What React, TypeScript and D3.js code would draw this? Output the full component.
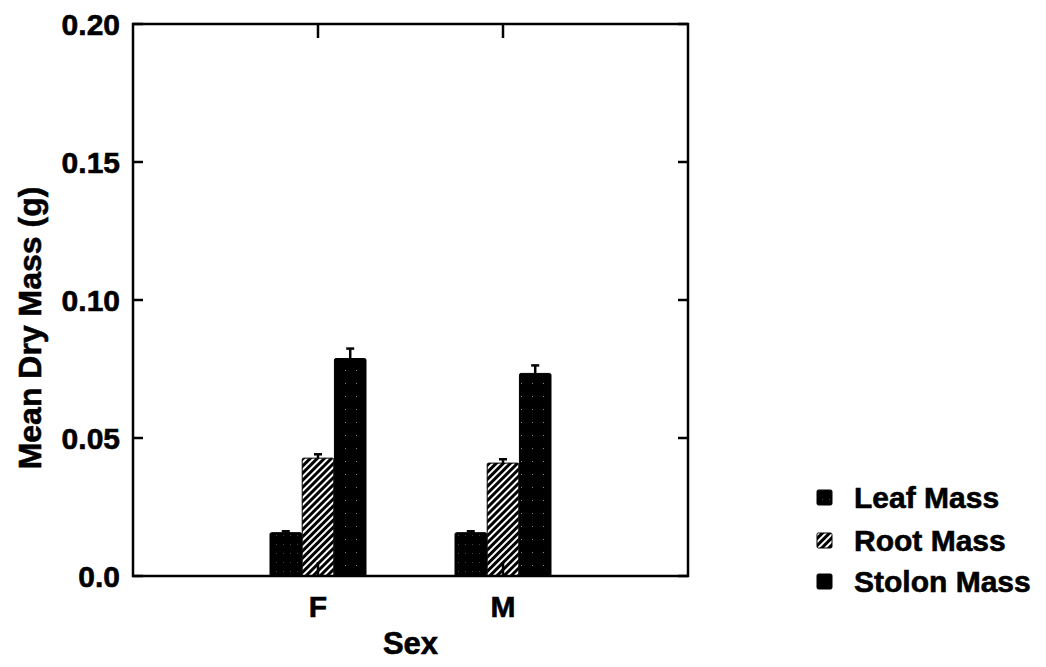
import React from "react";
import * as d3 from "d3";

// data
const sexes = ["F", "M"];
const sexPos = [1, 2];
const seriesNames = ["Leaf Mass", "Root Mass", "Stolon Mass"];
const leafMass = [0.0157, 0.0157];
const rootMass = [0.0427, 0.0409];
const stolonMass = [0.0788, 0.0734];
const leafErr = [0.0005, 0.0005];
const rootErr = [0.0014, 0.0014];
const stolonErr = [0.0036, 0.0029];
const yTicks = [0, 0.05, 0.1, 0.15, 0.2];
const yTickLabels = ["0.0", "0.05", "0.10", "0.15", "0.20"];

const W = 1046;
const H = 667;
const FONT = "'Liberation Sans', Arial, Helvetica, sans-serif";

function addText(sel: any, size: number) {
  return sel
    .attr("font-family", FONT)
    .attr("font-weight", "bold")
    .attr("font-size", size)
    .attr("stroke", "#000")
    .attr("stroke-width", 0.6);
}

function drawChart(svgEl: SVGSVGElement) {
  const svg = d3.select(svgEl);
  svg.selectAll("*").remove();

  const left = 133, right = 688, top = 24, bottom = 576;

  const x = d3.scaleLinear().domain([0, 3]).range([left, right]);
  const y = d3.scaleLinear().domain([0, 0.2]).range([bottom, top]);
  const inner = d3.scaleBand().domain(seriesNames).range([-48, 48]).paddingInner(0.02);

  // patterns
  const defs = svg.append("defs");
  const leafPat = defs.append("pattern").attr("id", "leafPat")
    .attr("patternUnits", "userSpaceOnUse").attr("width", 7).attr("height", 9);
  leafPat.append("rect").attr("width", 7).attr("height", 9).attr("fill", "#000");
  leafPat.append("rect").attr("x", 3).attr("y", 4).attr("width", 1).attr("height", 1).attr("fill", "#444");

  const hatch = defs.append("pattern").attr("id", "hatchPat")
    .attr("patternUnits", "userSpaceOnUse").attr("width", 5).attr("height", 5)
    .attr("patternTransform", "rotate(45)");
  hatch.append("rect").attr("width", 5).attr("height", 5).attr("fill", "#000");
  hatch.append("rect").attr("x", 0).attr("y", 0).attr("width", 2).attr("height", 5).attr("fill", "#fff");

  const stolPat = defs.append("pattern").attr("id", "stolPat")
    .attr("patternUnits", "userSpaceOnUse").attr("width", 11).attr("height", 13);
  stolPat.append("rect").attr("width", 11).attr("height", 13).attr("fill", "#000");
  stolPat.append("rect").attr("x", 4).attr("y", 6).attr("width", 1).attr("height", 1).attr("fill", "#888");

  const fills = ["url(#leafPat)", "url(#hatchPat)", "url(#stolPat)"];
  const legendFills = ["url(#leafPat)", "url(#hatchPat)", "#000"];
  const values = [leafMass, rootMass, stolonMass];
  const errs = [leafErr, rootErr, stolonErr];

  // bars + error bars
  sexes.forEach((s, i) => {
    seriesNames.forEach((name, k) => {
      const x0 = x(sexPos[i]) + (inner(name) as number);
      const bw = inner.bandwidth();
      const v = values[k][i];
      const e = errs[k][i];
      const cx = x0 + bw / 2;
      svg.append("line")
        .attr("x1", cx).attr("x2", cx)
        .attr("y1", y(v)).attr("y2", y(v + e))
        .attr("stroke", "#000").attr("stroke-width", 2.5);
      svg.append("line")
        .attr("x1", cx - 4).attr("x2", cx + 4)
        .attr("y1", y(v + e)).attr("y2", y(v + e))
        .attr("stroke", "#000").attr("stroke-width", 2.5);
      svg.append("rect")
        .attr("x", x0).attr("y", y(v))
        .attr("width", bw).attr("height", y(0) - y(v))
        .attr("rx", 1.5)
        .attr("fill", fills[k])
        .attr("stroke", "#000").attr("stroke-width", 1);
    });
  });

  // frame
  svg.append("rect")
    .attr("x", left).attr("y", top)
    .attr("width", right - left).attr("height", bottom - top)
    .attr("fill", "none").attr("stroke", "#000").attr("stroke-width", 2.5);

  // y ticks (inward on both sides)
  const tickLen = 10;
  yTicks.forEach((t, i) => {
    const yy = y(t);
    svg.append("line").attr("x1", left).attr("x2", left + tickLen)
      .attr("y1", yy).attr("y2", yy).attr("stroke", "#000").attr("stroke-width", 2.5);
    svg.append("line").attr("x1", right).attr("x2", right - tickLen)
      .attr("y1", yy).attr("y2", yy).attr("stroke", "#000").attr("stroke-width", 2.5);
    addText(svg.append("text"), 30)
      .attr("x", 120).attr("y", yy)
      .attr("dy", "0.36em")
      .attr("text-anchor", "end")
      .text(yTickLabels[i]);
  });

  // x ticks (inward top and bottom) + labels
  sexes.forEach((s, i) => {
    const xx = x(sexPos[i]);
    svg.append("line").attr("x1", xx).attr("x2", xx)
      .attr("y1", top).attr("y2", top + 14).attr("stroke", "#000").attr("stroke-width", 2.5);
    svg.append("line").attr("x1", xx).attr("x2", xx)
      .attr("y1", bottom).attr("y2", bottom - 14).attr("stroke", "#000").attr("stroke-width", 2.5);
    addText(svg.append("text"), 30)
      .attr("x", xx).attr("y", 617)
      .attr("text-anchor", "middle")
      .text(s);
  });

  // axis titles
  addText(svg.append("text"), 31)
    .attr("x", (left + right) / 2).attr("y", 654)
    .attr("text-anchor", "middle")
    .text("Sex");
  addText(svg.append("text"), 32)
    .attr("transform", `translate(41,${(top + bottom) / 2 + 28}) rotate(-90)`)
    .attr("text-anchor", "middle")
    .text("Mean Dry Mass (g)");

  // legend
  const legY = [497, 540, 581];
  seriesNames.forEach((name, k) => {
    svg.append("rect")
      .attr("x", 817).attr("y", legY[k] - 7)
      .attr("width", 15).attr("height", 15)
      .attr("rx", 1.5)
      .attr("fill", legendFills[k]).attr("stroke", "#000").attr("stroke-width", 1);
    addText(svg.append("text"), 30)
      .attr("x", 854).attr("y", legY[k])
      .attr("dy", "0.36em")
      .text(name);
  });
}

export default function App() {
  const ref = React.useRef<SVGSVGElement>(null);
  React.useEffect(() => {
    if (ref.current) drawChart(ref.current);
  }, []);
  return (
    <svg
      ref={ref}
      width={W}
      height={H}
      style={{ position: "absolute", left: 0, top: 0, background: "#fff" }}
    />
  );
}
